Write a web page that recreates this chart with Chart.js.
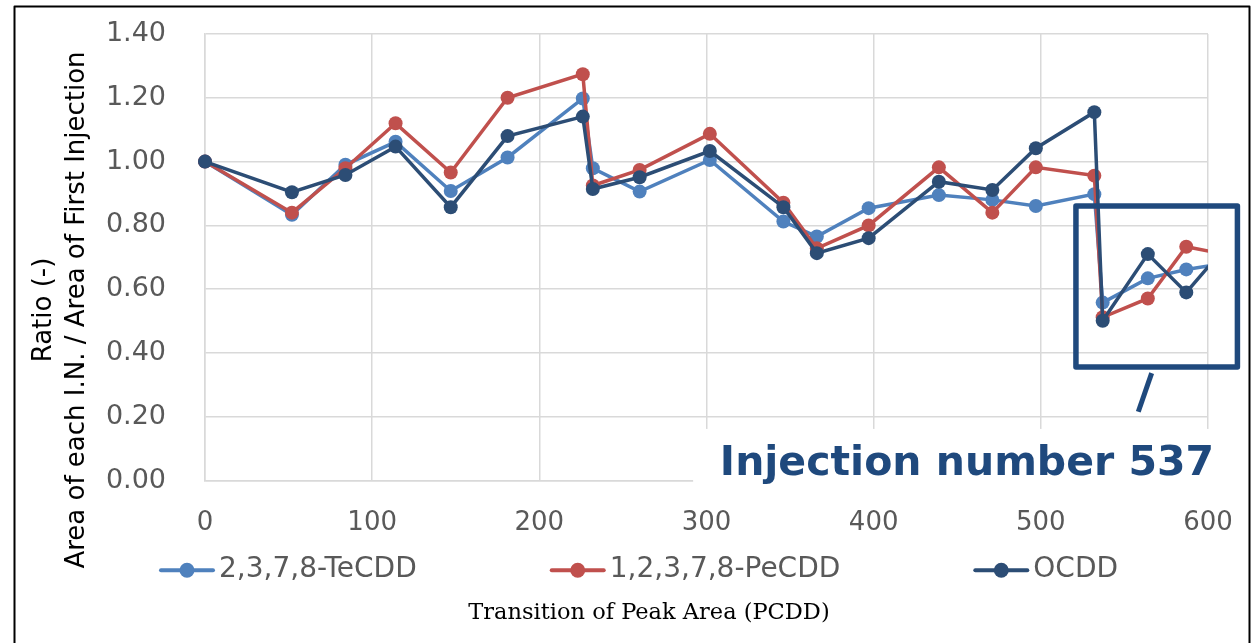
<!DOCTYPE html>
<html><head><meta charset="utf-8">
<script src="https://cdn.jsdelivr.net/npm/chart.js@4"></script>
<style>html,body{margin:0;padding:0;background:#fff;}canvas{display:block;}</style>
</head><body>
<canvas id="c" width="1254" height="643"></canvas>
<script>
// ---- data ----
const injectionNumbers = [0, 52, 84, 114, 147, 181, 226, 232, 260, 302, 346, 366, 397, 439, 471, 497, 532, 537, 564, 587, 610];
const teCDD = [1.00, 0.833, 0.990, 1.062, 0.908, 1.013, 1.198, 0.979, 0.906, 1.005, 0.812, 0.765, 0.854, 0.895, 0.880, 0.861, 0.898, 0.558, 0.634, 0.662, 0.681];
const peCDD = [1.00, 0.840, 0.979, 1.120, 0.966, 1.200, 1.274, 0.925, 0.974, 1.087, 0.871, 0.728, 0.800, 0.982, 0.840, 0.982, 0.956, 0.512, 0.571, 0.733, 0.710];
const oCDD  = [1.00, 0.904, 0.958, 1.047, 0.857, 1.080, 1.141, 0.914, 0.951, 1.033, 0.857, 0.713, 0.760, 0.937, 0.911, 1.042, 1.155, 0.501, 0.710, 0.590, 0.730];
const seriesNames = ['2,3,7,8-TeCDD', '1,2,3,7,8-PeCDD', 'OCDD'];
const seriesColors = ['#4F81BD', '#C0504D', '#2C4D75'];
const xTickLabels = ['0', '100', '200', '300', '400', '500', '600'];
const yTickLabels = ['0.00', '0.20', '0.40', '0.60', '0.80', '1.00', '1.20', '1.40'];
const yTitleLines = ['Ratio (-)', 'Area of each I.N. / Area of First Injection'];
const xTitle = 'Transition of Peak Area (PCDD)';
const calloutText = 'Injection number 537';

const seriesValues = [teCDD, peCDD, oCDD];
const toPoints = vals => injectionNumbers.map((n, i) => ({x: n, y: vals[i]}));

const GRID = '#d9d9d9';
const TICK = '#595959';
const CALLOUT = '#1F497D';

const overlay = {
  id: 'overlay',
  afterDraw(chart) {
    const {ctx, chartArea, scales: {x, y}} = chart;
    ctx.save();
    // white box behind the callout text
    ctx.fillStyle = '#ffffff';
    const bx0 = x.getPixelForValue(292), bx1 = x.getPixelForValue(608.5);
    const by0 = y.getPixelForValue(0.162), by1 = y.getPixelForValue(-0.062);
    ctx.fillRect(bx0, by0, bx1 - bx0, by1 - by0);
    // callout rectangle
    ctx.strokeStyle = CALLOUT;
    ctx.lineWidth = 5.5;
    ctx.lineJoin = 'round';
    const rx0 = x.getPixelForValue(521), rx1 = x.getPixelForValue(617.6);
    const ry0 = y.getPixelForValue(0.861), ry1 = y.getPixelForValue(0.356);
    ctx.strokeRect(rx0, ry0, rx1 - rx0, ry1 - ry0);
    // pointer
    ctx.lineWidth = 5;
    ctx.beginPath();
    ctx.moveTo(x.getPixelForValue(566.3), y.getPixelForValue(0.337));
    ctx.lineTo(x.getPixelForValue(558.3), y.getPixelForValue(0.216));
    ctx.stroke();
    // callout text
    ctx.fillStyle = CALLOUT;
    ctx.font = 'bold 41px "DejaVu Sans"';
    ctx.textAlign = 'left';
    ctx.textBaseline = 'alphabetic';
    ctx.fillText(calloutText, x.getPixelForValue(308), y.getPixelForValue(0.0176));

    // y-axis title (two lines, rotated)
    ctx.fillStyle = '#000000';
    ctx.font = '26px "DejaVu Sans"';
    ctx.textAlign = 'center';
    ctx.textBaseline = 'middle';
    const cy = chartArea.top + 276;
    const cxs = [chartArea.left - 161, chartArea.left - 128];
    yTitleLines.forEach((t, i) => {
      ctx.save();
      ctx.translate(cxs[i], cy);
      ctx.rotate(-Math.PI / 2);
      ctx.fillText(t, 0, 0);
      ctx.restore();
    });

    // legend
    ctx.font = '28px "DejaVu Sans"';
    ctx.textAlign = 'left';
    ctx.textBaseline = 'middle';
    const ly = x.bottom + 30;
    const lineLen = 54, textGap = 5, itemGap = 134;
    const widths = chart.data.datasets.map(ds => lineLen + textGap + ctx.measureText(ds.label).width);
    const total = widths.reduce((a, b) => a + b, 0) + itemGap * (widths.length - 1);
    let lx = 639 - total / 2;
    chart.data.datasets.forEach((ds, i) => {
      ctx.strokeStyle = ds.borderColor;
      ctx.lineWidth = 4;
      ctx.lineCap = 'round';
      ctx.beginPath();
      ctx.moveTo(lx + 1, ly);
      ctx.lineTo(lx + lineLen - 1, ly);
      ctx.stroke();
      ctx.fillStyle = ds.borderColor;
      ctx.beginPath();
      ctx.arc(lx + lineLen / 2, ly, 7.5, 0, Math.PI * 2);
      ctx.fill();
      ctx.fillStyle = TICK;
      ctx.fillText(ds.label, lx + lineLen + textGap, ly);
      lx += widths[i] + itemGap;
    });

    // outer frame
    ctx.strokeStyle = '#000000';
    ctx.lineWidth = 2;
    ctx.strokeRect(14.5, 6.5, 1235, 700);
    ctx.restore();
  }
};

new Chart(document.getElementById('c'), {
  type: 'line',
  data: {
    datasets: seriesValues.map((vals, i) => ({
      label: seriesNames[i],
      data: toPoints(vals),
      borderColor: seriesColors[i],
      backgroundColor: seriesColors[i],
      pointBackgroundColor: seriesColors[i],
      pointBorderColor: seriesColors[i],
      pointBorderWidth: 0,
      pointRadius: 7,
      borderWidth: 3.5,
      tension: 0,
      order: 3 - i,
      clip: {left: false, top: false, right: 0, bottom: false}
    }))
  },
  options: {
    responsive: false,
    devicePixelRatio: 1,
    animation: false,
    layout: {padding: {left: 90, right: 46, top: 34, bottom: 8}},
    plugins: {
      legend: {display: false},
      tooltip: {enabled: false},
      title: {
        display: true,
        position: 'bottom',
        text: xTitle,
        color: '#000000',
        font: {family: '"DejaVu Serif"', size: 22.5, weight: 'normal'},
        padding: {top: 59.3, bottom: 8.5}
      }
    },
    scales: {
      x: {
        type: 'linear',
        min: 0, max: 600,
        afterFit: s => { s.height = 59.6; s.paddingLeft = 0; s.paddingRight = 0; },
        grid: {color: GRID, lineWidth: 1.5, drawTicks: false},
        border: {color: GRID, width: 1.5},
        ticks: {
          stepSize: 100,
          padding: 27,
          maxRotation: 0,
          color: TICK,
          font: {family: '"DejaVu Sans"', size: 26},
          callback: (v, i) => xTickLabels[i]
        }
      },
      y: {
        min: 0, max: 1.4,
        afterFit: s => { s.width = 115; s.paddingTop = 0; s.paddingBottom = 0; },
        grid: {color: GRID, lineWidth: 1.5, drawTicks: false},
        border: {color: GRID, width: 1.5},
        ticks: {
          stepSize: 0.2,
          padding: 39,
          color: TICK,
          font: {family: '"DejaVu Sans"', size: 27},
          callback: (v, i) => yTickLabels[i]
        }
      }
    }
  },
  plugins: [overlay]
});
</script>
</body></html>
